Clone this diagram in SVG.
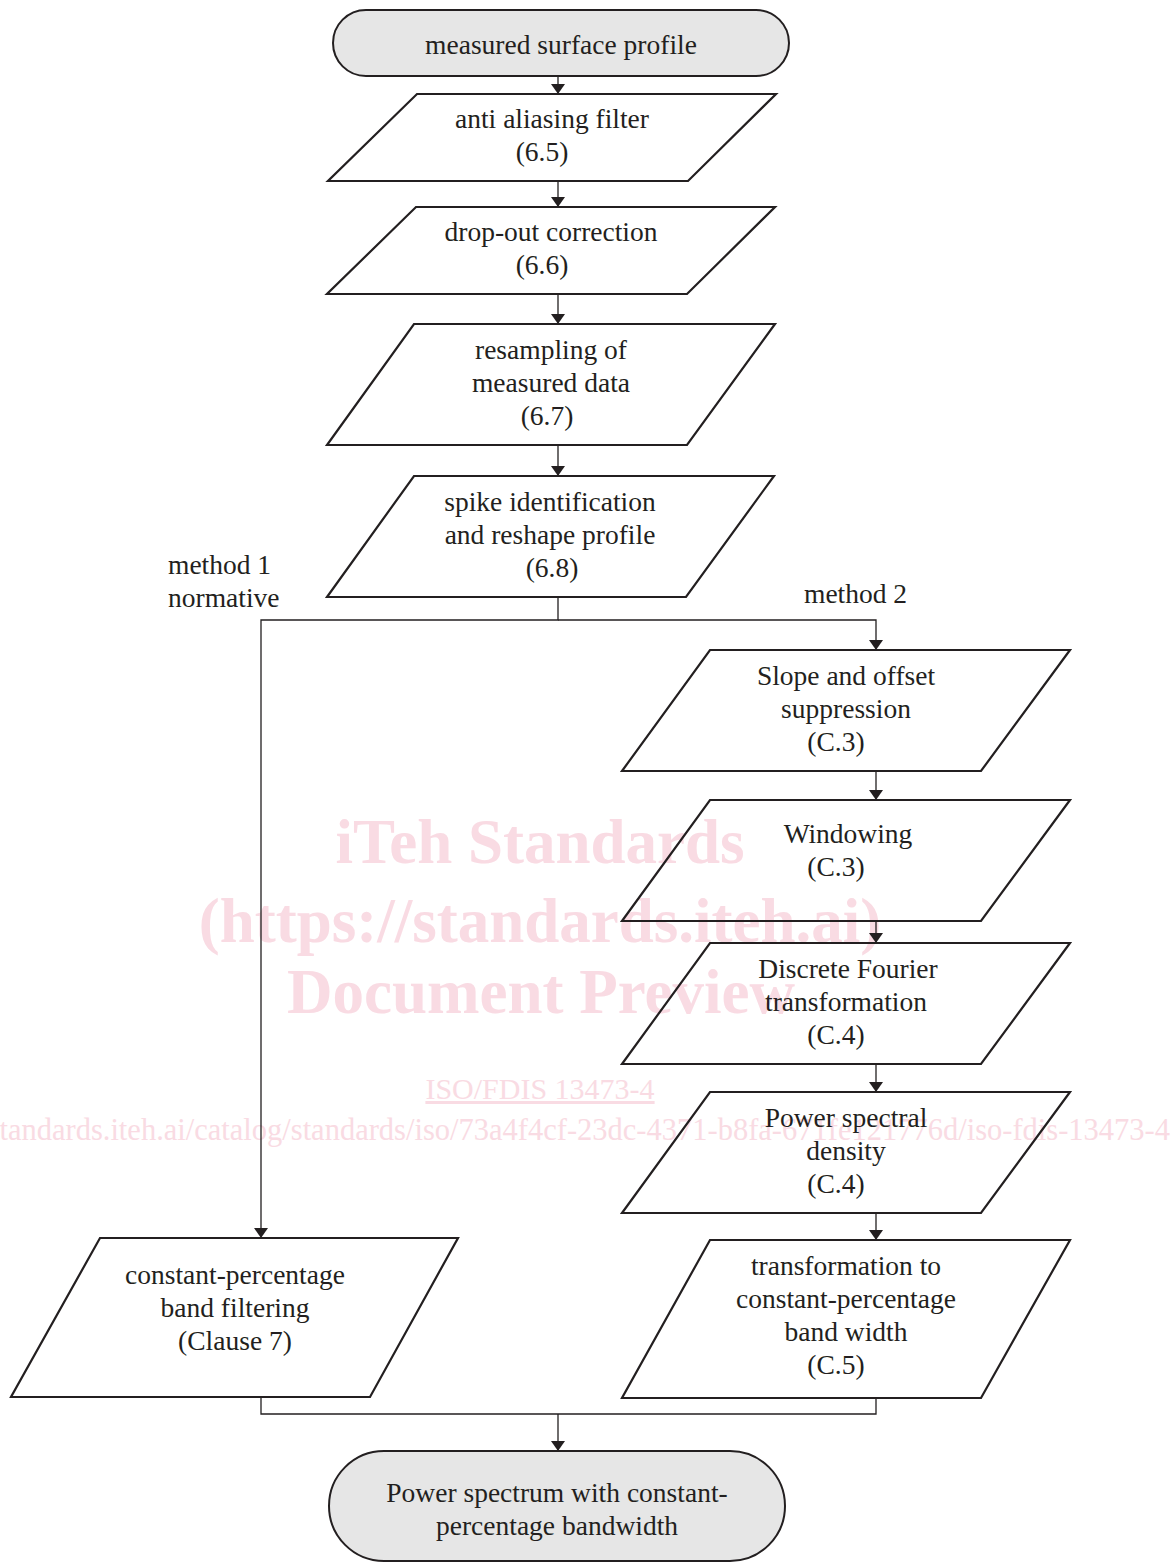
<svg xmlns="http://www.w3.org/2000/svg" width="1174" height="1562" viewBox="0 0 1174 1562">
<style>
.t{font-family:"Liberation Serif","Times New Roman",serif;font-size:27.5px;fill:#231f20;text-anchor:middle}
.l{font-family:"Liberation Serif","Times New Roman",serif;font-size:27.5px;fill:#231f20}
.term{fill:#e6e6e6;stroke:#231f20;stroke-width:2}
.para{fill:none;stroke:#231f20;stroke-width:2.2;stroke-linejoin:miter}
.c{fill:none;stroke:#231f20;stroke-width:1.3}
.wm{font-family:"Liberation Serif","Times New Roman",serif;fill:#f9dbe3;text-anchor:middle}
</style>
<defs>
<marker id="ah" viewBox="0 0 10 14" refX="10" refY="7" markerWidth="10" markerHeight="14" markerUnits="userSpaceOnUse" orient="auto">
<path d="M0,0 L10,7 L0,14 Z" fill="#231f20"/>
</marker>
</defs>
<rect width="1174" height="1562" fill="#ffffff"/>

<g id="watermark">
<text class="wm" x="540" y="863" font-size="63" font-weight="bold">iTeh Standards</text>
<text class="wm" x="540" y="942" font-size="63" font-weight="bold">(https://standards.iteh.ai)</text>
<text class="wm" x="541" y="1013" font-size="63" font-weight="bold">Document Preview</text>
<text class="wm" x="540" y="1099" font-size="30" text-decoration="underline">ISO/FDIS 13473-4</text>
<text x="1170" y="1140" font-size="30.5" font-family="Liberation Serif, serif" fill="#f9dbe3" text-anchor="end">standards.iteh.ai/catalog/standards/iso/73a4f4cf-23dc-4371-b8fa-671fe121776d/iso-fdis-13473-4</text>
</g>

<g id="connectors">
<line class="c" x1="558" y1="76" x2="558" y2="94" marker-end="url(#ah)"/>
<line class="c" x1="558" y1="181" x2="558" y2="207" marker-end="url(#ah)"/>
<line class="c" x1="558" y1="294" x2="558" y2="324" marker-end="url(#ah)"/>
<line class="c" x1="558" y1="445" x2="558" y2="476" marker-end="url(#ah)"/>
<polyline class="c" points="558,597 558,620 261,620 261,1238" marker-end="url(#ah)"/>
<polyline class="c" points="558,620 876,620 876,650" marker-end="url(#ah)"/>
<line class="c" x1="876" y1="771" x2="876" y2="800" marker-end="url(#ah)"/>
<line class="c" x1="876" y1="921" x2="876" y2="943" marker-end="url(#ah)"/>
<line class="c" x1="876" y1="1064" x2="876" y2="1092" marker-end="url(#ah)"/>
<line class="c" x1="876" y1="1213" x2="876" y2="1240" marker-end="url(#ah)"/>
<polyline class="c" points="261,1397 261,1414 876,1414 876,1398"/>
<line class="c" x1="558" y1="1414" x2="558" y2="1451" marker-end="url(#ah)"/>
<text class="l" x="168" y="574">method 1</text>
<text class="l" x="168" y="607">normative</text>
<text class="l" x="804" y="603">method 2</text>
</g>

<g id="start">
<rect class="term" x="333" y="10" width="456" height="66" rx="33" ry="33"/>
<text class="t" x="561" y="54">measured surface profile</text>
</g>

<g id="antialias">
<polygon class="para" points="417,94 776,94 688,181 328,181"/>
<text class="t" x="552" y="128">anti aliasing filter</text>
<text class="t" x="542" y="161">(6.5)</text>
</g>

<g id="dropout">
<polygon class="para" points="416,207 775,207 687,294 327,294"/>
<text class="t" x="551" y="241">drop-out correction</text>
<text class="t" x="542" y="274">(6.6)</text>
</g>

<g id="resampling">
<polygon class="para" points="414,324 775,324 687,445 327,445"/>
<text class="t" x="551" y="359">resampling of</text>
<text class="t" x="551" y="392">measured data</text>
<text class="t" x="547" y="425">(6.7)</text>
</g>

<g id="spike">
<polygon class="para" points="414,476 774,476 686,597 327,597"/>
<text class="t" x="550" y="511">spike identification</text>
<text class="t" x="550" y="544">and reshape profile</text>
<text class="t" x="552" y="577">(6.8)</text>
</g>

<g id="slope">
<polygon class="para" points="710,650 1070,650 981,771 622,771"/>
<text class="t" x="846" y="685">Slope and offset</text>
<text class="t" x="846" y="718">suppression</text>
<text class="t" x="836" y="751">(C.3)</text>
</g>

<g id="windowing">
<polygon class="para" points="710,800 1070,800 981,921 622,921"/>
<text class="t" x="848" y="843">Windowing</text>
<text class="t" x="836" y="876">(C.3)</text>
</g>

<g id="dft">
<polygon class="para" points="710,943 1070,943 981,1064 622,1064"/>
<text class="t" x="848" y="978">Discrete Fourier</text>
<text class="t" x="846" y="1011">transformation</text>
<text class="t" x="836" y="1044">(C.4)</text>
</g>

<g id="psd">
<polygon class="para" points="710,1092 1070,1092 981,1213 622,1213"/>
<text class="t" x="846" y="1127">Power spectral</text>
<text class="t" x="846" y="1160">density</text>
<text class="t" x="836" y="1193">(C.4)</text>
</g>

<g id="transform">
<polygon class="para" points="710,1240 1070,1240 981,1398 622,1398"/>
<text class="t" x="846" y="1275">transformation to</text>
<text class="t" x="846" y="1308">constant-percentage</text>
<text class="t" x="846" y="1341">band width</text>
<text class="t" x="836" y="1374">(C.5)</text>
</g>

<g id="bandfilter">
<polygon class="para" points="100,1238 458,1238 370,1397 11,1397"/>
<text class="t" x="235" y="1284">constant-percentage</text>
<text class="t" x="235" y="1317">band filtering</text>
<text class="t" x="235" y="1350">(Clause 7)</text>
</g>

<g id="end">
<rect class="term" x="329" y="1451" width="456" height="110" rx="55" ry="55"/>
<text class="t" x="557" y="1502">Power spectrum with constant-</text>
<text class="t" x="557" y="1535">percentage bandwidth</text>
</g>
</svg>
